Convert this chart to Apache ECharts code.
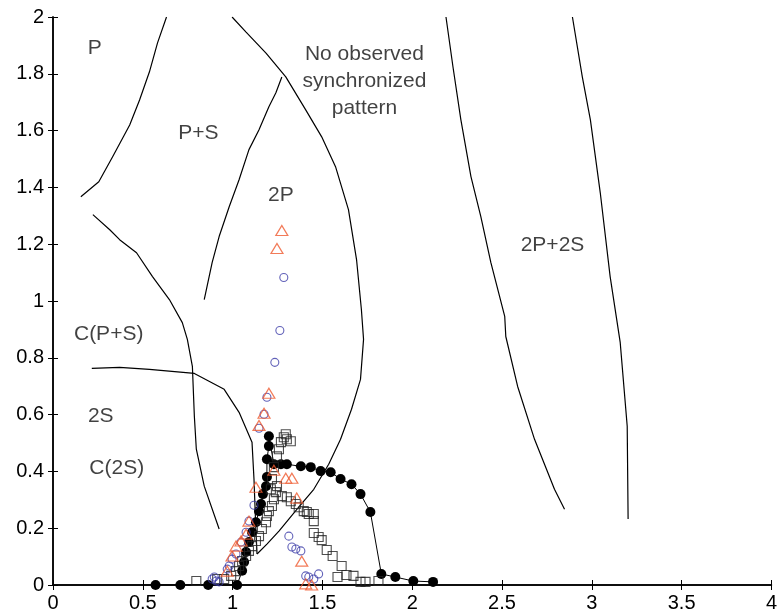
<!DOCTYPE html>
<html>
<head>
<meta charset="utf-8">
<script src="https://cdn.jsdelivr.net/npm/echarts@6/dist/echarts.min.js"></script>
<style>
    html, body {margin:0; padding:0; background:#fff;}
    #chart {width:780px; height:616px;}
</style>
</head>
<body>
<div id="chart"></div>
<script>
// 区域边界线
const boundaryPS = [[0.155,1.367],[0.255,1.420],[0.332,1.508],[0.427,1.620],[0.482,1.708],[0.537,1.807],[0.582,1.909],[0.632,2.0]];
const boundaryNone = [[0.997,2.0],[1.075,1.947],[1.186,1.873],[1.296,1.789],[1.407,1.673],[1.496,1.578],[1.573,1.473],[1.645,1.322],[1.690,1.146],[1.717,0.970],[1.729,0.865],[1.712,0.724],[1.662,0.619],[1.601,0.513],[1.535,0.425],[1.452,0.337],[1.368,0.274],[1.313,0.232],[1.258,0.190],[1.191,0.144],[1.136,0.109]];
const boundary2P = [[1.274,1.789],[1.241,1.733],[1.202,1.684],[1.147,1.603],[1.091,1.533],[1.036,1.427],[0.981,1.332],[0.925,1.227],[0.886,1.135],[0.842,1.005]];
const boundaryCPS = [[0.222,1.304],[0.316,1.251],[0.371,1.216],[0.465,1.170],[0.554,1.086],[0.648,1.005],[0.720,0.924],[0.748,0.865],[0.776,0.770],[0.787,0.594],[0.798,0.478],[0.842,0.348],[0.925,0.197]];
const boundary2S = [[0.216,0.763],[0.371,0.766],[0.537,0.759],[0.787,0.745],[0.953,0.689],[1.036,0.608],[1.108,0.503],[1.119,0.373],[1.130,0.186],[1.136,0.109]];
const boundary2P2SLeft = [[2.188,2.0],[2.227,1.824],[2.271,1.638],[2.327,1.438],[2.382,1.297],[2.438,1.135],[2.515,0.946],[2.521,0.875],[2.587,0.699],[2.681,0.513],[2.792,0.337],[2.848,0.267]];
const boundary2P2SRight = [[2.892,2.0],[2.947,1.789],[2.992,1.638],[3.047,1.381],[3.102,1.086],[3.158,0.854],[3.197,0.559],[3.202,0.232]];

// 实心圆（带连线）
const filledDots = [[0.571,0],[0.709,0],[0.864,0],[1.025,0],[1.053,0.050],[1.064,0.081],[1.075,0.116],[1.091,0.151],[1.108,0.186],[1.130,0.221],[1.147,0.260],[1.158,0.285],[1.169,0.320],[1.186,0.348],[1.191,0.380],[1.191,0.443],[1.202,0.489],[1.202,0.524],[1.230,0.425],[1.269,0.425],[1.302,0.425],[1.380,0.418],[1.435,0.415],[1.490,0.401],[1.546,0.397],[1.601,0.373],[1.662,0.355],[1.712,0.320],[1.767,0.257],[1.828,0.039],[1.906,0.028],[2.006,0.014],[2.116,0.011]];

// 空心方块
const openSquares = [[0.798,0.014],[0.914,0.021],[0.953,0.021],[0.992,0.032],[1.019,0.049],[1.036,0.067],[1.053,0.084],[1.075,0.102],[1.091,0.120],[1.108,0.137],[1.130,0.155],[1.147,0.172],[1.163,0.197],[1.186,0.221],[1.191,0.243],[1.202,0.260],[1.219,0.278],[1.230,0.302],[1.241,0.327],[1.247,0.348],[1.213,0.337],[1.219,0.373],[1.230,0.415],[1.247,0.453],[1.258,0.478],[1.269,0.503],[1.285,0.520],[1.296,0.531],[1.302,0.513],[1.324,0.506],
    [1.274,0.313],[1.302,0.309],[1.324,0.295],[1.352,0.285],[1.368,0.274],[1.396,0.260],[1.413,0.257],[1.424,0.250],[1.452,0.250],[1.452,0.225],[1.452,0.183],[1.479,0.169],[1.496,0.158],[1.524,0.123],[1.557,0.102],[1.607,0.067],[1.584,0.028],[1.634,0.035],[1.673,0.032],[1.712,0.011],[1.740,0.011],[1.812,0.014]];

// 蓝色空心圆
const blueCircles = [[1.285,1.083],[1.263,0.896],[1.235,0.784],[1.191,0.661],[1.175,0.601],[1.147,0.552],[1.119,0.281],[1.091,0.225],[1.075,0.186],[1.047,0.151],[1.019,0.109],[0.997,0.091],[0.981,0.067],[0.970,0.056],[0.898,0.028],[0.909,0.014],[0.925,0.011],[0.886,0.021],[1.313,0.172],[1.330,0.134],[1.352,0.127],[1.380,0.120],[1.407,0.032],[1.424,0.028],[1.452,0.021],[1.479,0.039]];

// 红色三角
const redTriangles = [[1.274,1.248],[1.247,1.185],[1.202,0.675],[1.175,0.605],[1.147,0.562],[1.230,0.404],[1.296,0.376],[1.330,0.376],[1.130,0.344],[1.357,0.306],[1.091,0.225],[1.075,0.179],[1.047,0.155],[1.019,0.137],[0.997,0.102],[0.970,0.049],[1.385,0.084],[1.407,0.004],[1.440,0.0]];

// 区域文字
const regionNames = ['P','P+S','2P','No observed\nsynchronized\npattern','2P+2S','C(P+S)','2S','C(2S)'];
const regionX = [0.233,0.809,1.269,1.734,2.781,0.310,0.266,0.355];
const regionY = [1.891,1.592,1.371,1.775,1.195,0.882,0.594,0.411];

const FONT = "'Liberation Sans', Arial, sans-serif";

const lineSeries = (data) => ({
    type:'line',
    data:data,
    symbol:'none',
    silent:true,
    lineStyle:{color:'#000', width:1.2},
    z:2
});

const axisCommon = {
    type:'value',
    axisLine:{show:true, lineStyle:{color:'#000', width:1.5}},
    axisTick:{show:true, inside:true, length:5, lineStyle:{color:'#000', width:1}},
    splitLine:{show:false}
};

const myCharts = echarts.init(document.getElementById('chart'));
myCharts.setOption({
    animation:false,
    backgroundColor:'#fff',
    grid:{left:53, right:5, top:17, bottom:31},
    xAxis:[
        Object.assign({}, axisCommon, {
            min:0, max:4, interval:0.5, position:'bottom',
            axisLabel:{color:'#000', fontSize:20, fontFamily:FONT, margin:8}
        }),
        Object.assign({}, axisCommon, {
            min:0, max:4, interval:0.5, position:'top',
            axisLabel:{show:false}
        })
    ],
    yAxis:[
        Object.assign({}, axisCommon, {
            min:0, max:2, interval:0.2, position:'left',
            axisLabel:{color:'#000', fontSize:20, fontFamily:FONT, margin:9}
        }),
        Object.assign({}, axisCommon, {
            min:0, max:2, interval:0.2, position:'right',
            axisLabel:{show:false}
        })
    ],
    series:[
        lineSeries(boundaryPS),
        lineSeries(boundaryNone),
        lineSeries(boundary2P),
        lineSeries(boundaryCPS),
        lineSeries(boundary2S),
        lineSeries(boundary2P2SLeft),
        lineSeries(boundary2P2SRight),
        {
            type:'line',
            data:filledDots,
            symbol:'circle',
            symbolSize:10,
            showSymbol:true,
            itemStyle:{color:'#000'},
            lineStyle:{color:'#000', width:1},
            z:3
        },
        {
            type:'scatter',
            data:openSquares,
            symbol:'rect',
            symbolSize:9,
            itemStyle:{color:'transparent', borderColor:'#222', borderWidth:1.1},
            z:4
        },
        {
            type:'scatter',
            data:blueCircles,
            symbol:'circle',
            symbolSize:8,
            itemStyle:{color:'transparent', borderColor:'#3b3ba8', borderWidth:1.1},
            z:5
        },
        {
            type:'scatter',
            data:redTriangles,
            symbol:'triangle',
            symbolSize:[12,10],
            itemStyle:{color:'transparent', borderColor:'#ef5a2f', borderWidth:1.2},
            z:6
        },
        {
            type:'scatter',
            data:regionNames.map((n,i)=>({name:n, value:[regionX[i], regionY[i]]})),
            symbolSize:0,
            silent:true,
            label:{
                show:true,
                position:'inside',
                formatter:'{b}',
                color:'#111',
                fontSize:21,
                lineHeight:27,
                align:'center',
                fontFamily:FONT
            },
            z:7
        }
    ]
});
</script>
</body>
</html>
